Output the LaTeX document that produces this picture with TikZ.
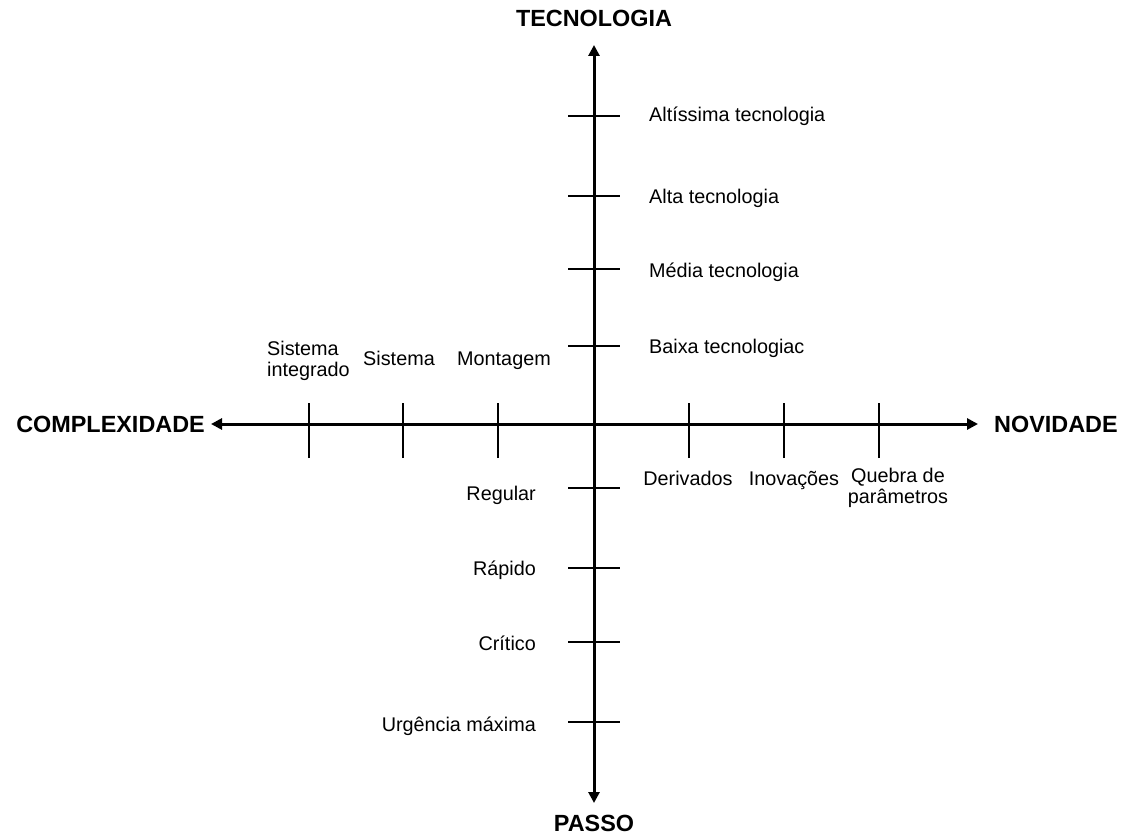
\documentclass[tikz,border=0pt]{standalone}
\usepackage{fontspec}
\setmainfont{Liberation Sans}
\usetikzlibrary{arrows.meta}

\begin{document}
\begin{tikzpicture}[x=1pt, y=-1pt,
    axis/.style={line width=3pt,
      {Triangle[length=11pt,width=11pt]}-{Triangle[length=11pt,width=11pt]}},
    tick/.style={line width=2.6pt},
    title/.style={font=\fontsize{23.4}{26}\selectfont\bfseries, inner sep=0pt},
    lab/.style={font=\fontsize{19.8}{21}\selectfont, inner sep=0pt, align=center}]
    \useasboundingbox (0,0) rectangle (1123,837);
    % Axis ends
    \coordinate (top)    at (594,45);
    \coordinate (bottom) at (594,803);
    \coordinate (left)   at (211,424);
    \coordinate (right)  at (978,424);
    % Axis titles
    \node[title]               (tec) at (594,18)  {TECNOLOGIA};
    \node[title]               (pas) at (594,823) {PASSO};
    \node[title, anchor=east]  (com) at (205,424) {COMPLEXIDADE};
    \node[title, anchor=west]  (nov) at (994,424) {NOVIDADE};
    % Axes
    \draw[axis] (bottom) -- (top);
    \draw[axis] (left) -- (right);
    % Tick points on the axes
    \coordinate (t1) at (594,116);
    \coordinate (t2) at (594,196);
    \coordinate (t3) at (594,269);
    \coordinate (t4) at (594,346);
    \coordinate (p1) at (594,488);
    \coordinate (p2) at (594,568);
    \coordinate (p3) at (594,642);
    \coordinate (p4) at (594,722);
    \coordinate (c1) at (498,424);
    \coordinate (c2) at (403,424);
    \coordinate (c3) at (309,424);
    \coordinate (n1) at (689,424);
    \coordinate (n2) at (784,424);
    \coordinate (n3) at (879,424);
    % Ticks
    \draw[tick] ([xshift=-26pt]t1) -- ([xshift=26pt]t1);
    \draw[tick] ([xshift=-26pt]t2) -- ([xshift=26pt]t2);
    \draw[tick] ([xshift=-26pt]t3) -- ([xshift=26pt]t3);
    \draw[tick] ([xshift=-26pt]t4) -- ([xshift=26pt]t4);
    \draw[tick] ([xshift=-26pt]p1) -- ([xshift=26pt]p1);
    \draw[tick] ([xshift=-26pt]p2) -- ([xshift=26pt]p2);
    \draw[tick] ([xshift=-26pt]p3) -- ([xshift=26pt]p3);
    \draw[tick] ([xshift=-26pt]p4) -- ([xshift=26pt]p4);
    \draw[tick] ([yshift=-34pt]c1) -- ([yshift=21pt]c1);
    \draw[tick] ([yshift=-34pt]c2) -- ([yshift=21pt]c2);
    \draw[tick] ([yshift=-34pt]c3) -- ([yshift=21pt]c3);
    \draw[tick] ([yshift=-34pt]n1) -- ([yshift=21pt]n1);
    \draw[tick] ([yshift=-34pt]n2) -- ([yshift=21pt]n2);
    \draw[tick] ([yshift=-34pt]n3) -- ([yshift=21pt]n3);
    % Labels: tecnologia
    \node[lab, anchor=base west] (altissima) at (649,122) {Altíssima tecnologia};
    \node[lab, anchor=base west] (alta)      at (649,203) {Alta tecnologia};
    \node[lab, anchor=base west] (media)     at (649,277) {Média tecnologia};
    \node[lab, anchor=base west] (baixa)     at (649,353) {Baixa tecnologiac};
    % Labels: passo
    \node[lab, anchor=base east] (regular) at (536,500) {Regular};
    \node[lab, anchor=base east] (rapido)  at (536,575) {Rápido};
    \node[lab, anchor=base east] (critico) at (536,650) {Crítico};
    \node[lab, anchor=base east] (urgente) at (536,731) {Urgência máxima};
    % Labels: complexidade (base = last line)
    \node[lab, align=left, anchor=base west] (integrado) at (267,376) {Sistema\\integrado};
    \node[lab, anchor=base] (sistema)   at (399,365) {Sistema};
    \node[lab, anchor=base] (montagem)  at (504,365) {Montagem};
    % Labels: novidade
    \node[lab, anchor=base] (derivados) at (688,485) {Derivados};
    \node[lab, anchor=base] (inovacoes) at (794,485) {Inovações};
    \node[lab, anchor=base] (quebra)    at (898,503) {Quebra de\\parâmetros};
\end{tikzpicture}
\end{document}
